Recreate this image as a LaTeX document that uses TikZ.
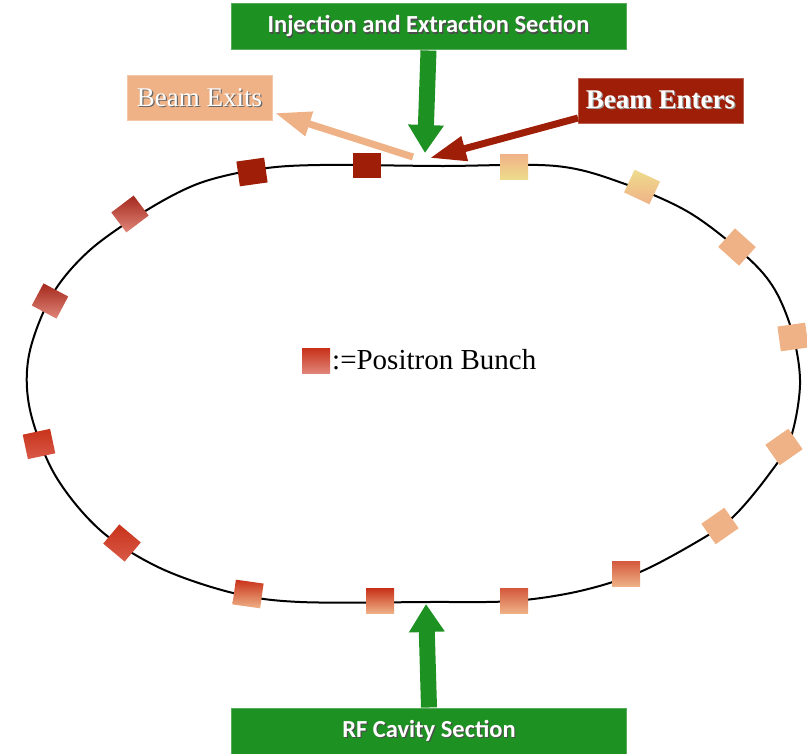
\documentclass[tikz,border=0pt]{standalone}
\usepackage{fontspec}
\usetikzlibrary{arrows.meta}
\newfontfamily\carlito{Carlito}
\newfontfamily\palfont{Liberation Serif}
% text with a soft drop shadow below and to the right
\newcommand{\shadowed}[2]{\leavevmode\rlap{\kern1.2pt\raisebox{-1.2pt}{\textcolor{#1}{#2}}}#2}

\definecolor{secgreen}{RGB}{30,145,35}
\definecolor{enterred}{RGB}{158,30,8}
\definecolor{peach}{RGB}{239,178,135}
\definecolor{paleyellow}{RGB}{238,220,140}
\definecolor{brightred}{RGB}{200,50,26}
\definecolor{softred}{RGB}{217,90,72}
\definecolor{deepred}{RGB}{165,40,28}
\definecolor{pinkred}{RGB}{224,134,122}
\definecolor{warmred}{RGB}{212,90,62}

\tikzset{
  ring/.style={line width=2pt, black},
  bunch/.style={minimum width=28pt, minimum height=25pt, inner sep=0pt, draw=none},
  sectionbox/.style={fill=secgreen, draw=secgreen!75!white, line width=1pt,
    minimum width=395pt, minimum height=46pt, inner sep=0pt,
    font=\carlito\bfseries\fontsize{24.5}{28}\selectfont, text=white},
  greenarrow/.style={secgreen, line width=16pt, -{Triangle[width=34pt,length=28pt]}},
  beambox/.style={minimum height=45pt, inner sep=0pt, text=white},
  beamarrow/.style={line width=7pt, -{Triangle[width=24pt,length=36pt]}},
}

\begin{document}
\begin{tikzpicture}[x=1pt,y=-1pt]
\useasboundingbox (0,0) rectangle (807,754);

% storage ring
\draw[ring] plot[smooth cycle, tension=0.55] coordinates {
  (260,169) (320,165) (440,166) (556,166)
  (625,184) (690,213) (747,257) (775,290) (793,335) (800,385) (790,440) (767,477) (733,517) (700,540) (640,572) (580,591)
  (513,601) (430,602) (300,602)
  (233,593) (160,568) (100,530) (55,475) (30,410) (29,355) (52,295) (90,250) (147,210) (200,183)};

% section labels
\node[sectionbox] (inj) at (428.5,27) {\shadowed{black!70}{Injection and Extraction Section}};
\node[sectionbox] (rf) at (429,731) {\shadowed{black!70}{RF Cavity Section}};

% beam labels
\node[beambox, fill=peach, draw=peach!70!white, minimum width=145pt,
  font=\palfont\fontsize{27}{30}\selectfont] (exits) at (199.5,98) {\shadowed{black!60}{Beam Exits}};
\node[beambox, fill=enterred, draw=enterred!70!white, minimum width=165pt,
  font=\palfont\bfseries\fontsize{27}{30}\selectfont] (enters) at (660.5,100.5) {\shadowed{black!40}{Beam Enters}};

% arrow end points at the injection point
\coordinate (injtip) at (425,153);
\coordinate (rftip) at (426,604);
\coordinate (exitfrom) at (413,157);
\coordinate (exittip) at (275,113);
\coordinate (entertip) at (430,158);
\coordinate (enterfrom) at (578,118);

\draw[greenarrow] (inj.south) -- (injtip);
\draw[greenarrow] (rf.north) -- (rftip);
\draw[beamarrow, peach] (exitfrom) -- (exittip);
\draw[beamarrow, enterred] (enterfrom) -- (entertip);

% positron bunches around the ring
\node[bunch, fill=enterred, rotate=8] (b1) at (252,172) {};
\node[bunch, fill=enterred] (b2) at (367,166) {};
\node[bunch, top color=peach, bottom color=paleyellow] (b3) at (514,167) {};
\node[bunch, top color=paleyellow, bottom color=peach, rotate=-25] (b4) at (642,187) {};
\node[bunch, fill=peach, rotate=-42] (b5) at (737,247) {};
\node[bunch, fill=peach, rotate=8] (b6) at (793,337) {};
\node[bunch, fill=peach, rotate=35] (b7) at (784,447) {};
\node[bunch, fill=peach, rotate=35] (b8) at (720,526) {};
\node[bunch, top color=warmred, bottom color=peach] (b9) at (626,574) {};
\node[bunch, top color=warmred, bottom color=peach] (b10) at (514,601) {};
\node[bunch, top color=brightred, bottom color=peach] (b11) at (380,601) {};
\node[bunch, top color=brightred, bottom color=peach, rotate=-8] (b12) at (248,594) {};
\node[bunch, top color=brightred, bottom color=softred, rotate=-40] (b13) at (122,543) {};
\node[bunch, top color=brightred, bottom color=softred, rotate=12] (b14) at (39,444) {};
\node[bunch, top color=deepred, bottom color=pinkred, rotate=-28] (b15) at (50,301) {};
\node[bunch, top color=deepred, bottom color=pinkred, rotate=37] (b16) at (130,214) {};

% legend
\node[bunch, top color=brightred, bottom color=pinkred] (legsq) at (316,361) {};
\node[anchor=west, inner sep=0pt, font=\palfont\fontsize{29}{32}\selectfont] (legtext) at (332,360) {:=Positron Bunch};
\end{tikzpicture}
\end{document}
